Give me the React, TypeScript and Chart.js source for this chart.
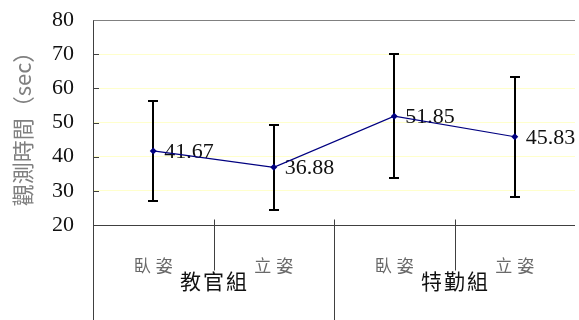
import { useEffect, useRef } from 'react';
import { Chart, registerables } from 'chart.js';

Chart.register(...registerables);

// Observation time by group and posture (mean ± SD, seconds)
const postures = ['臥姿', '立姿', '臥姿', '立姿'];
const groups = ['教官組', '特勤組'];
const meanTimes = [41.67, 36.88, 51.85, 45.83];
const sdTimes = [14.5, 12.5, 18.2, 17.6];
const yMin = 20;
const yMax = 80;
const yStep = 10;
const yTitle = '觀測時間（sec）';

const SERIF = '"Liberation Serif", "Times New Roman", serif';
const CJK = '"Noto Sans CJK TC", "Noto Sans CJK SC", sans-serif';
const AXIS = '#404040';

const decorPlugin = {
  id: 'decor',
  beforeDatasetsDraw(chart: any) {
    const { ctx, scales } = chart;
    const x = scales.x;
    const y = scales.y;
    ctx.save();
    // error bars
    ctx.strokeStyle = '#000';
    ctx.lineWidth = 2;
    meanTimes.forEach((m, i) => {
      const px = Math.round(x.getPixelForValue(i));
      const top = Math.round(y.getPixelForValue(m + sdTimes[i]));
      const bot = Math.round(y.getPixelForValue(m - sdTimes[i]));
      ctx.beginPath();
      ctx.moveTo(px, top);
      ctx.lineTo(px, bot);
      ctx.moveTo(px - 5, top);
      ctx.lineTo(px + 5, top);
      ctx.moveTo(px - 5, bot);
      ctx.lineTo(px + 5, bot);
      ctx.stroke();
    });
    // value labels
    ctx.fillStyle = '#111';
    ctx.font = `22px ${SERIF}`;
    ctx.textAlign = 'left';
    ctx.textBaseline = 'middle';
    meanTimes.forEach((m, i) => {
      ctx.fillText(m.toFixed(2), x.getPixelForValue(i) + 11, y.getPixelForValue(m) + 1);
    });
    ctx.restore();
  },
  afterDraw(chart: any) {
    const { ctx, chartArea: a, scales, height } = chart;
    const y = scales.y;
    const L = Math.round(a.left) + 0.5;
    const B = Math.round(a.bottom) + 0.5;
    const T = Math.round(a.top) + 0.5;
    const band = (a.right - a.left) / postures.length;
    ctx.save();
    ctx.lineWidth = 1;

    // top frame line
    ctx.strokeStyle = '#808080';
    ctx.beginPath();
    ctx.moveTo(a.left, T);
    ctx.lineTo(a.right, T);
    ctx.stroke();

    ctx.strokeStyle = AXIS;
    ctx.beginPath();
    // value axis and category axis
    ctx.moveTo(L, T);
    ctx.lineTo(L, height);
    ctx.moveTo(a.left, B);
    ctx.lineTo(a.right, B);
    // inside tick marks on the value axis
    for (let v = yMin + yStep; v < yMax; v += yStep) {
      const py = Math.round(y.getPixelForValue(v)) + 0.5;
      ctx.moveTo(a.left, py);
      ctx.lineTo(a.left + 6, py);
    }
    // category boundaries: tick marks and dividers below the axis
    for (let k = 1; k < postures.length; k++) {
      const px = Math.round(a.left + k * band) + 0.5;
      ctx.moveTo(px, B - 6);
      ctx.lineTo(px, B);
      ctx.moveTo(px, B);
      ctx.lineTo(px, k % 2 === 0 ? height : B + 45);
    }
    ctx.stroke();

    // posture labels
    ctx.textAlign = 'center';
    ctx.textBaseline = 'middle';
    ctx.fillStyle = '#6a6a6a';
    ctx.font = `17px ${CJK}`;
    (ctx as any).letterSpacing = '5px';
    postures.forEach((p, i) => {
      ctx.fillText(p, a.left + (i + 0.5) * band + 2.5, B + 40);
    });

    // group labels
    ctx.fillStyle = '#111';
    ctx.font = `21px ${CJK}`;
    (ctx as any).letterSpacing = '2px';
    groups.forEach((g, i) => {
      ctx.fillText(g, a.left + (2 * i + 1) * band + 1, B + 56);
    });
    (ctx as any).letterSpacing = '0px';

    // value axis title
    ctx.fillStyle = '#808080';
    ctx.font = `22px ${CJK}`;
    ctx.translate(23, (a.top + a.bottom) / 2 + 1);
    ctx.rotate(-Math.PI / 2);
    ctx.fillText(yTitle, 0, 0);
    ctx.restore();
  },
};

export default function App() {
  const canvasRef = useRef<HTMLCanvasElement | null>(null);

  useEffect(() => {
    const canvas = canvasRef.current;
    if (!canvas) return;
    const chart = new Chart(canvas, {
      type: 'line',
      data: {
        labels: postures,
        datasets: [
          {
            data: meanTimes,
            borderColor: '#000080',
            backgroundColor: '#000080',
            borderWidth: 1.2,
            pointStyle: 'rectRot',
            pointRadius: 3.5,
            pointBorderWidth: 0,
            pointBackgroundColor: '#000080',
            tension: 0,
          },
        ],
      },
      options: {
        animation: false,
        responsive: false,
        layout: { padding: { top: 20, right: 0, left: 0, bottom: 0 } },
        plugins: {
          legend: { display: false },
          tooltip: { enabled: false },
          title: { display: false },
        },
        scales: {
          x: {
            type: 'category',
            offset: true,
            grid: { display: false },
            border: { display: false },
            ticks: { display: false },
            afterFit: (s: any) => {
              s.height = 95;
              s.paddingLeft = 0;
              s.paddingRight = 0;
            },
          },
          y: {
            min: yMin,
            max: yMax,
            ticks: {
              stepSize: yStep,
              padding: 19,
              color: '#111',
              font: { family: SERIF, size: 22 },
            },
            grid: {
              drawTicks: false,
              color: (c: any) =>
                c.tick && c.tick.value > yMin && c.tick.value < yMax ? '#ffffcc' : 'rgba(0,0,0,0)',
            },
            border: { display: false },
            afterFit: (s: any) => {
              s.width = 93;
              s.paddingTop = 0;
              s.paddingBottom = 0;
            },
          },
        },
      },
      plugins: [decorPlugin],
    });
    return () => chart.destroy();
  }, []);

  return (
    <div style={{ position: 'fixed', left: 0, top: 0, width: 579, height: 320, background: '#fff' }}>
      <canvas ref={canvasRef} width={579} height={320} style={{ display: 'block' }} />
    </div>
  );
}
